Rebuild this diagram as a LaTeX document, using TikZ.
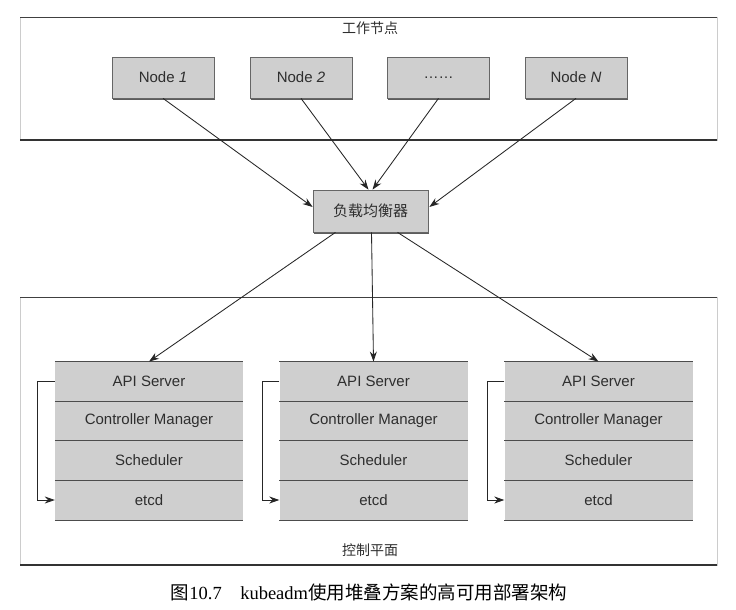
\documentclass[tikz,border=0pt]{standalone}
\usepackage{fontspec}
\setmainfont{Liberation Sans}
\newfontfamily\cjk{Noto Sans CJK SC}
\newfontfamily\capserif{Liberation Serif}
\usetikzlibrary{arrows.meta,calc,shadows}
\definecolor{boxgray}{HTML}{CFCFCF}
\definecolor{txtgray}{HTML}{2E2E2E}
\tikzset{
  panel/.style={draw=black!20, fill=white, line width=0.6pt},
  nodebox/.style={draw=black!60, fill=boxgray, line width=0.7pt, minimum width=102pt, minimum height=41pt,
    font=\fontsize{15}{17}\selectfont, text=txtgray,
    drop shadow={shadow xshift=0.8pt, shadow yshift=-1.8pt, fill=black!75, opacity=0.85}},
  lbbox/.style={nodebox, minimum width=115pt, minimum height=42pt},
  row/.style={fill=boxgray, minimum width=188pt, minimum height=39.5pt, inner sep=0pt,
    font=\fontsize{15}{17}\selectfont, text=txtgray},
  sep/.style={draw=black!70, line width=0.8pt},
  conn/.style={draw=black!85, line width=0.85pt, -{Stealth[length=10pt,width=7pt]}},
  title/.style={font=\cjk\fontsize{14}{16}\selectfont, text=txtgray},
}
\begin{document}
\begin{tikzpicture}[x=1pt,y=-1pt]
\useasboundingbox[fill=white] (0,0) rectangle (736,610);
% panels
\draw[panel] (20,17) rectangle (717,140);
\draw[black!75, line width=0.8pt] (20,17) -- (717,17);
\draw[black!80, line width=2pt] (20,140) -- (717,140);
\draw[panel] (20,297) rectangle (717,565);
\draw[black!75, line width=0.8pt] (20,297) -- (717,297);
\draw[black!80, line width=2pt] (20,565) -- (717,565);
\node[title] (t1) at (370,28) {工作节点};
\node[title] (t2) at (370,550) {控制平面};
% worker nodes
\node[nodebox] (n1) at (163,77.5) {Node \textit{1}};
\node[nodebox] (n2) at (301,77.5) {Node \textit{2}};
\node[nodebox] (n3) at (438.5,77.5) {……};
\node[nodebox] (n4) at (576,77.5) {Node \textit{N}};
% load balancer
\node[lbbox] (lb) at (370.5,211) {\cjk 负载均衡器};
% stacks
\foreach \i/\cx in {1/149, 2/373.5, 3/598.5}{
  \node[row] (api\i) at (\cx,381.5) {API Server};
  \node[row] (cm\i) at (\cx,421) {Controller Manager};
  \node[row] (sch\i) at (\cx,460.5) {Scheduler};
  \node[row] (etcd\i) at (\cx,500) {etcd};
  \draw[sep] (api\i.north west) -- (api\i.north east);
  \draw[sep] (cm\i.north west) -- (cm\i.north east);
  \draw[sep] (sch\i.north west) -- (sch\i.north east);
  \draw[sep] (etcd\i.north west) -- (etcd\i.north east);
  \draw[sep] (etcd\i.south west) -- (etcd\i.south east);
  \draw[conn] (api\i.west) -- ++(-17,0) |- (etcd\i.west);
}
% arrows into LB
\draw[conn] (n1.south) -- ($(lb.west)+(0,-4)$);
\draw[conn] (n2.south) -- ($(lb.north)+(-2,0)$);
\draw[conn] (n3.south) -- ($(lb.north)+(2,0)$);
\draw[conn] (n4.south) -- ($(lb.east)+(1,-4)$);
% arrows out of LB
\draw[conn] ($(lb.south)+(-35,0)$) -- (api1.north);
\draw[conn] ($(lb.south)+(1,0)$) -- (api2.north);
\draw[conn] ($(lb.south)+(27,0)$) -- (api3.north);
% caption
\node[font=\fontsize{18.5}{20}\selectfont, text=black] (cap) at (369,592) {\cjk 图\capserif 10.7\hspace{1em}kubeadm\cjk 使用堆叠方案的高可用部署架构};
\end{tikzpicture}
\end{document}
